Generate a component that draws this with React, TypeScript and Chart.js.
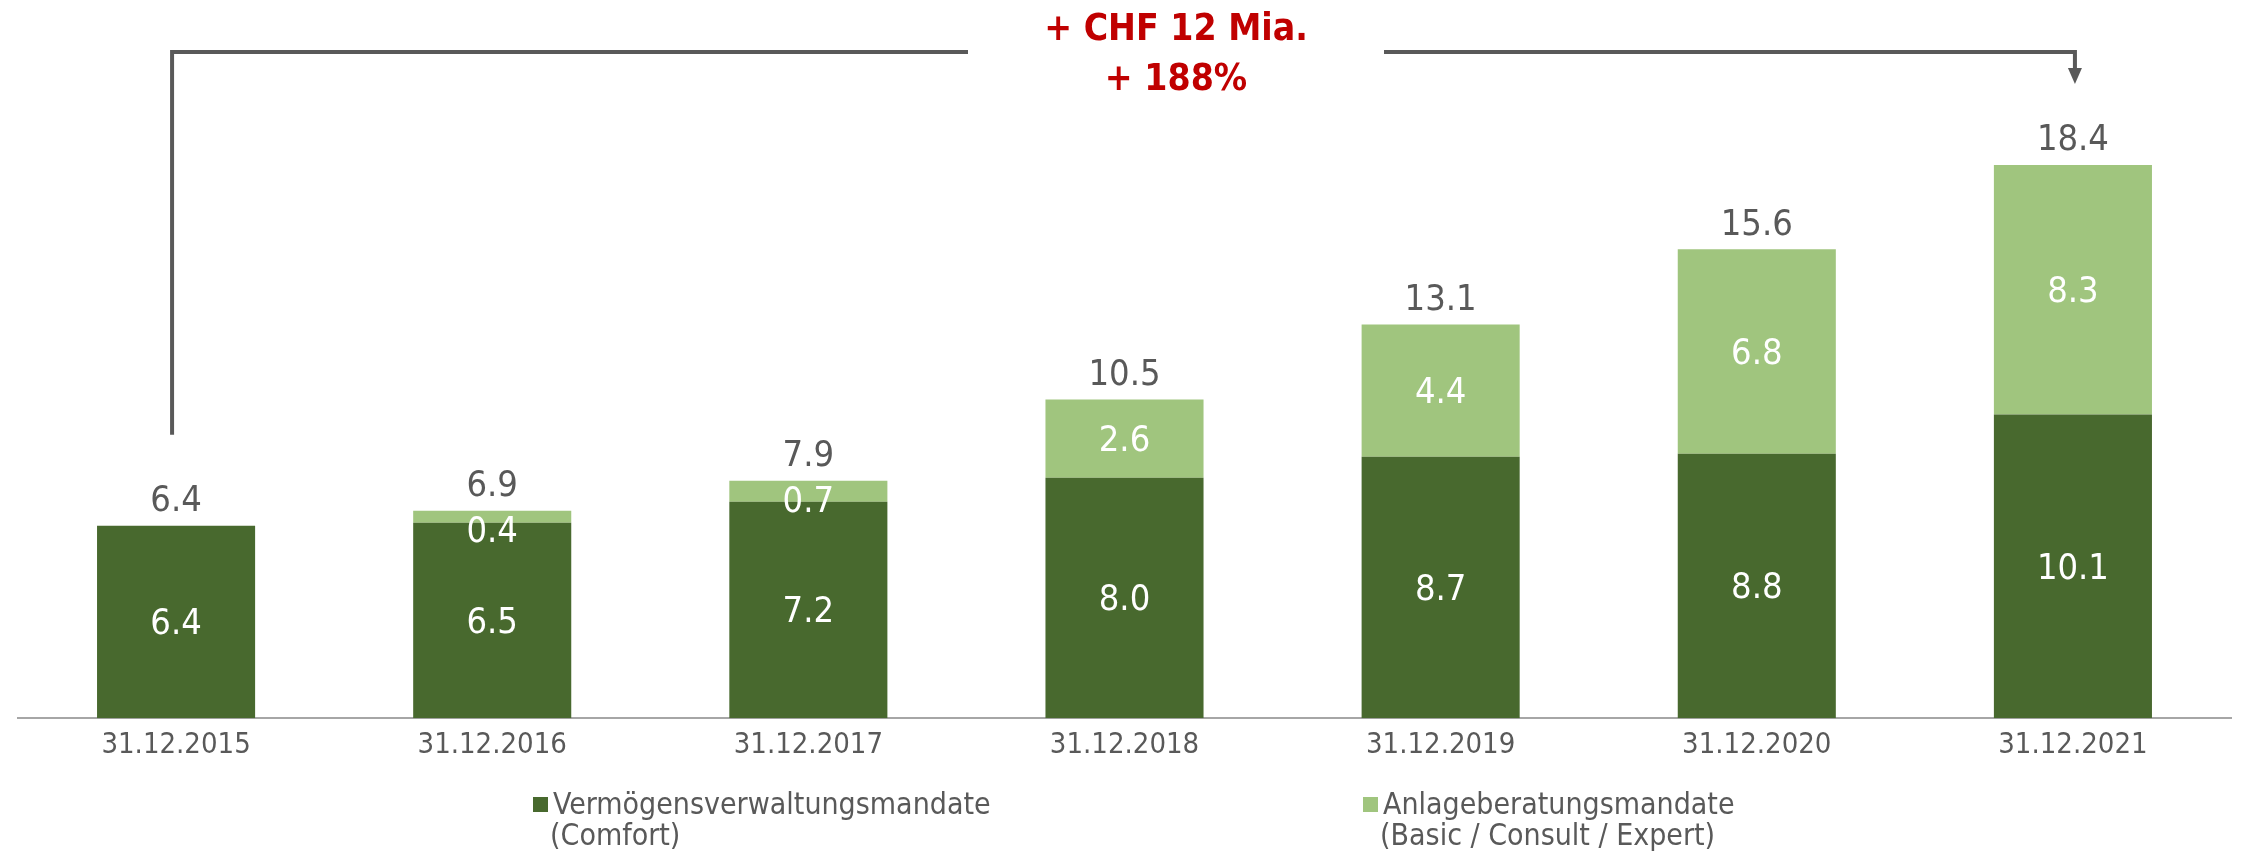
import React, { useEffect, useRef } from "react";
import { Chart, registerables } from "chart.js";

Chart.register(...registerables);

const categories = ["31.12.2015", "31.12.2016", "31.12.2017", "31.12.2018", "31.12.2019", "31.12.2020", "31.12.2021"];
const comfortValues = [6.4, 6.5, 7.2, 8.0, 8.7, 8.8, 10.1];
const advisoryValues = [0, 0.4, 0.7, 2.6, 4.4, 6.8, 8.3];
const totals = [6.4, 6.9, 7.9, 10.5, 13.1, 15.6, 18.4];
const seriesLabels = ["Vermögensverwaltungsmandate\n(Comfort)", "Anlageberatungsmandate\n(Basic / Consult / Expert)"];
const annotationLines = ["+ CHF 12 Mia.", "+ 188%"];

const DARK = "#48692E";
const LIGHT = "#A0C57E";
const GRAY = "#595959";
const RED = "#C00000";
const FONT = "'DejaVu Sans Condensed', 'DejaVu Sans', sans-serif";

const overlayPlugin = {
  id: "overlay",
  afterDraw(chart: any) {
    const ctx = chart.ctx;
    const xs = chart.scales.x;
    ctx.save();
    // segment labels
    ctx.textAlign = "center";
    ctx.textBaseline = "middle";
    ctx.font = `36px ${FONT}`;
    ctx.fillStyle = "#FFFFFF";
    chart.data.datasets.forEach((ds: any, di: number) => {
      const meta = chart.getDatasetMeta(di);
      meta.data.forEach((el: any, i: number) => {
        const v = ds.data[i];
        if (!v) return;
        const y = Math.max((el.y + el.base) / 2 + 3, el.y + 22);
        ctx.fillText(v.toFixed(1), el.x, y);
      });
    });
    // totals
    ctx.fillStyle = GRAY;
    totals.forEach((t, i) => {
      let top = Infinity;
      chart.data.datasets.forEach((_: any, di: number) => {
        const el = chart.getDatasetMeta(di).data[i];
        if (el && chart.data.datasets[di].data[i]) top = Math.min(top, el.y);
      });
      const x = xs.getPixelForValue(i);
      ctx.fillText(t.toFixed(1), x, top - 24);
    });

    // bracket
    const firstTop = chart.getDatasetMeta(0).data[0].y;
    const xL = xs.getPixelForValue(0) - 4;
    const xR = xs.getPixelForValue(categories.length - 1) + 2;
    const yLine = 52;
    const textX = 1176;
    const gap = 208;
    ctx.strokeStyle = GRAY;
    ctx.lineWidth = 4;
    ctx.beginPath();
    ctx.moveTo(xL, firstTop - 91);
    ctx.lineTo(xL, yLine);
    ctx.lineTo(textX - gap, yLine);
    ctx.moveTo(textX + gap, yLine);
    ctx.lineTo(xR, yLine);
    ctx.lineTo(xR, 70);
    ctx.stroke();
    ctx.fillStyle = GRAY;
    ctx.beginPath();
    ctx.moveTo(xR - 7, 68);
    ctx.lineTo(xR + 7, 68);
    ctx.lineTo(xR, 84);
    ctx.closePath();
    ctx.fill();

    ctx.fillStyle = RED;
    ctx.font = `bold 37px ${FONT}`;
    ctx.fillText(annotationLines[0], textX, 30);
    ctx.fillText(annotationLines[1], textX, 80);

    // legend
    const legendX = [533, 1363];
    ctx.textAlign = "left";
    ctx.font = `30px ${FONT}`;
    chart.data.datasets.forEach((ds: any, di: number) => {
      const lx = legendX[di];
      ctx.fillStyle = ds.backgroundColor;
      ctx.fillRect(lx, 797, 15, 15);
      ctx.fillStyle = GRAY;
      const lines = String(ds.label).split("\n");
      lines.forEach((ln: string, li: number) => {
        ctx.fillText(ln, lx + (li === 0 ? 20 : 17), 806 + li * 31);
      });
    });
    ctx.restore();
  },
};

export default function App() {
  const ref = useRef<HTMLCanvasElement | null>(null);
  useEffect(() => {
    document.body.style.margin = "0";
    const chart = new Chart(ref.current as HTMLCanvasElement, {
      type: "bar",
      data: {
        labels: categories,
        datasets: [
          { label: seriesLabels[0], data: comfortValues, backgroundColor: DARK, barPercentage: 0.5, categoryPercentage: 1 },
          { label: seriesLabels[1], data: advisoryValues, backgroundColor: LIGHT, barPercentage: 0.5, categoryPercentage: 1 },
        ],
      },
      options: {
        responsive: false,
        animation: false,
        layout: { padding: { left: 18, right: 10, top: 117, bottom: 80 } },
        scales: {
          x: {
            stacked: true,
            grid: { display: false, drawTicks: false },
            border: { display: true, color: "#A6A6A6", width: 2 },
            ticks: { color: GRAY, font: { family: FONT, size: 29 }, padding: 10, maxRotation: 0 },
          },
          y: { stacked: true, display: false, min: 0, max: 20 },
        },
        plugins: { legend: { display: false }, tooltip: { enabled: false } },
      },
      plugins: [overlayPlugin],
    });
    return () => chart.destroy();
  }, []);
  return (
    <div style={{ width: 2241, height: 853 }}>
      <canvas ref={ref} width={2241} height={853} style={{ display: "block" }} />
    </div>
  );
}
